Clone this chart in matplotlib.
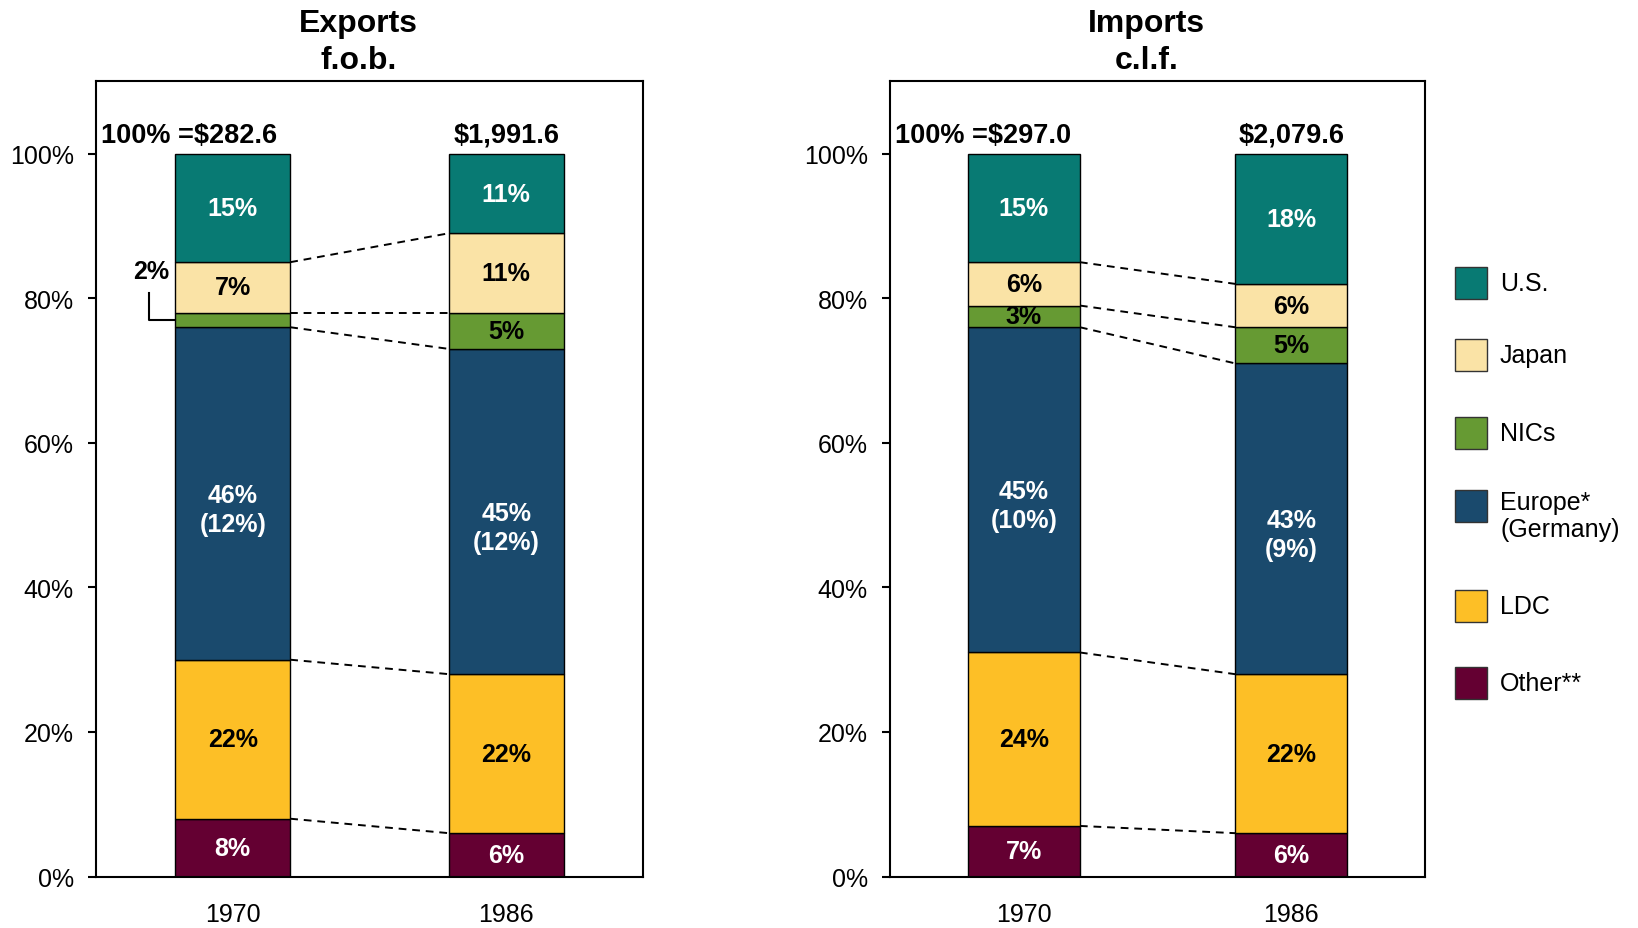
import matplotlib
matplotlib.use("Agg")
import matplotlib.pyplot as plt
from matplotlib.patches import Rectangle

plt.rcParams['font.family'] = ['Liberation Sans Narrow', 'Liberation Sans', 'DejaVu Sans']

# --- Data ---
years = ["1970", "1986"]
regions = ["Other**", "LDC", "Europe*\n(Germany)", "NICs", "Japan", "U.S."]
colors = ["#640032", "#FDBF26", "#1A4A6D", "#669A33", "#FAE3A6", "#087A73"]
text_colors = ["white", "black", "white", "black", "black", "white"]

exports_1970 = [8, 22, 46, 2, 7, 15]
exports_1986 = [6, 22, 45, 5, 11, 11]
imports_1970 = [7, 24, 45, 3, 6, 15]
imports_1986 = [6, 22, 43, 5, 6, 18]

exports_labels_1970 = ["8%", "22%", "46%\n(12%)", "", "7%", "15%"]
exports_labels_1986 = ["6%", "22%", "45%\n(12%)", "5%", "11%", "11%"]
imports_labels_1970 = ["7%", "24%", "45%\n(10%)", "3%", "6%", "15%"]
imports_labels_1986 = ["6%", "22%", "43%\n(9%)", "5%", "6%", "18%"]

exports_totals = ["100% =$282.6", "$1,991.6"]
imports_totals = ["100% =$297.0", "$2,079.6"]

BAR_W = 0.42

fig = plt.figure(figsize=(16.38, 9.29), dpi=100)
ax_exp = fig.add_axes([0.0586, 0.0554, 0.334, 0.8558])
ax_imp = fig.add_axes([0.5433, 0.0554, 0.3267, 0.8558])


def draw_panel(ax, title, vals, labels, totals):
    bounds = []
    for i, (v, lab) in enumerate(zip(vals, labels)):
        bottom = 0
        tops = []
        for k, seg in enumerate(v):
            ax.bar(i, seg, bottom=bottom, width=BAR_W, color=colors[k],
                   edgecolor="black", linewidth=1.0, zorder=2)
            if lab[k]:
                # two-line labels sit a little below the segment centre
                dy = -2.2 if "\n" in lab[k] else 0
                ax.text(i, bottom + seg / 2 + dy, lab[k], ha="center", va="center",
                        color=text_colors[k], fontsize=18, fontweight="bold",
                        linespacing=1.25, zorder=3)
            bottom += seg
            tops.append(bottom)
        bounds.append(tops)
    # dashed connectors between segment tops (skip the 100% line)
    for k in range(len(colors) - 1):
        ax.plot([BAR_W / 2, 1 - BAR_W / 2], [bounds[0][k], bounds[1][k]],
                color="black", linestyle=(0, (4, 3)), linewidth=1.4, zorder=1)
    ax.text(-0.482, 102.6, totals[0], ha="left", va="center",
            fontsize=19.5, fontweight="bold")
    ax.text(1.0, 102.6, totals[1], ha="center", va="center",
            fontsize=19.5, fontweight="bold")

    ax.set_xlim(-0.5, 1.5)
    ax.set_ylim(0, 110)
    ax.set_xticks([0, 1])
    ax.set_xticklabels(years, fontsize=18)
    ax.tick_params(axis="x", length=0, pad=18)
    ax.set_yticks(range(0, 101, 20))
    ax.set_yticklabels([f"{t}%" for t in range(0, 101, 20)], fontsize=18)
    ax.tick_params(axis="y", length=6, width=1.5, pad=10)
    for sp in ax.spines.values():
        sp.set_linewidth(1.5)
    ax.set_title(title, fontsize=23, fontweight="bold", linespacing=1.3,
                 pad=10, x=0.48)


draw_panel(ax_exp, "Exports\nf.o.b.", [exports_1970, exports_1986],
           [exports_labels_1970, exports_labels_1986], exports_totals)
draw_panel(ax_imp, "Imports\nc.l.f.", [imports_1970, imports_1986],
           [imports_labels_1970, imports_labels_1986], imports_totals)

# "2%" callout for the small NICs slice in exports 1970
nics_mid = sum(exports_1970[:3]) + exports_1970[3] / 2
ax_exp.text(-0.30, 83.8, "2%", ha="center", va="center",
            fontsize=18, fontweight="bold")
ax_exp.plot([-0.305, -0.305, -BAR_W / 2], [80.8, nics_mid, nics_mid],
            color="black", linewidth=1.5, zorder=3)

# --- Legend (manual, squares aligned to first text line) ---
legend_y = [284, 356, 434, 507, 607, 684]  # pixel centres from top
legend_order = list(range(len(regions)))[::-1]
W, H = 1638, 929
for yy, k in zip(legend_y, legend_order):
    fig.patches.append(Rectangle((1455 / W, (H - yy - 16) / H), 32 / W, 32 / H,
                                 transform=fig.transFigure, facecolor=colors[k],
                                 edgecolor="#333333", linewidth=1.0))
    two = "\n" in regions[k]
    fig.text(1500 / W, (H - yy + 16) / H if two else (H - yy) / H, regions[k],
             ha="left", va="top" if two else "center",
             fontsize=18, family=["Liberation Sans", "DejaVu Sans"],
             linespacing=1.15)

fig.savefig("out.png", dpi=100)
